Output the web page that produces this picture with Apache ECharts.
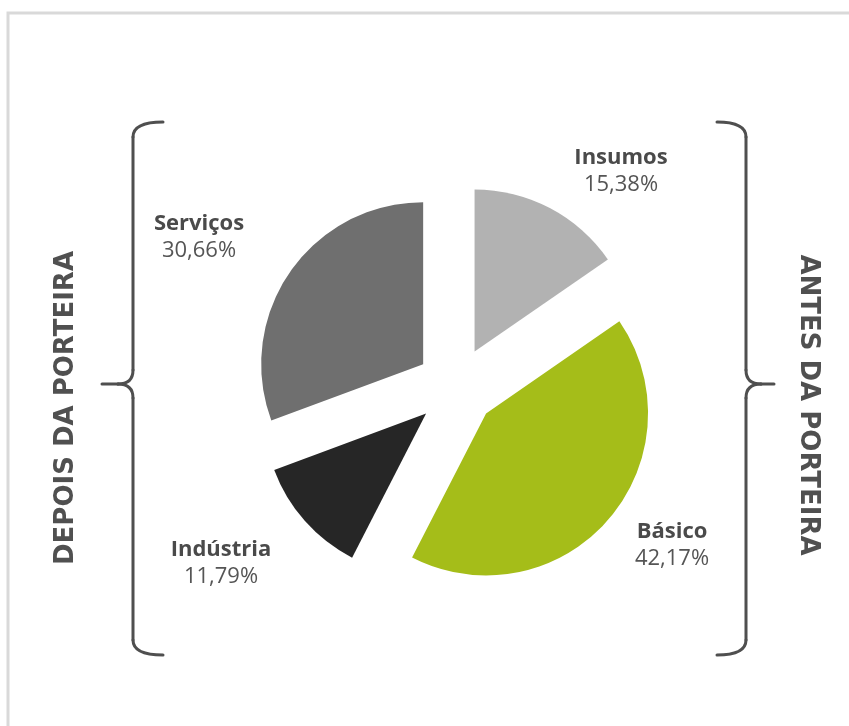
<!DOCTYPE html>
<html>
<head>
<meta charset="utf-8">
<script src="https://cdn.jsdelivr.net/npm/echarts@6/dist/echarts.min.js"></script>
<style>
  html, body { margin: 0; padding: 0; background: #ffffff; }
  #chart { width: 849px; height: 726px; }
</style>
</head>
<body>
<div id="chart"></div>
<script>
// Participação de cada segmento (%)
const categories = ['Insumos', 'Básico', 'Indústria', 'Serviços'];
const shares = [15.38, 42.17, 11.79, 30.66];
const sliceColors = ['#b2b2b2', '#a5bd19', '#262626', '#6f6f6f'];

// Label anchor points for each slice (centre of the two-line label)
const labelAnchors = [[621, 171], [672, 545], [221, 563], [199, 237]];

const leftTitle = 'DEPOIS DA PORTEIRA';
const rightTitle = 'ANTES DA PORTEIRA';

const chart = echarts.init(document.getElementById('chart'), null, { renderer: 'canvas' });

const fmt = v => v.toFixed(2).replace('.', ',') + '%';

const bracketStyle = { stroke: '#4f4f4f', lineWidth: 3, fill: null, lineCap: 'round', lineJoin: 'round' };

// Curly bracket built from straight pieces and quadratic corners.
// xv: x of the vertical stroke, dir: +1 opens to the right, -1 opens to the left
function bracket(xv, dir, top, mid, bottom, arm, tip) {
  const xa = xv + dir * arm;      // end of top/bottom arms
  const xt = xv - dir * tip;      // point of the middle tip
  const xm = xv - dir * 15;
  const q = (x1, y1, cx, cy, x2, y2) => ({
    type: 'bezierCurve', silent: true, style: bracketStyle,
    shape: { x1, y1, cpx1: cx, cpy1: cy, x2, y2 }
  });
  const l = (x1, y1, x2, y2) => ({
    type: 'line', silent: true, style: bracketStyle,
    shape: { x1, y1, x2, y2 }
  });
  return [
    q(xa, top, xv, top, xv, top + 15),
    l(xv, top + 15, xv, mid - 14),
    q(xv, mid - 14, xv, mid, xm, mid),
    l(xm, mid, xt, mid),
    q(xm, mid, xv, mid, xv, mid + 14),
    l(xv, mid + 14, xv, bottom - 15),
    q(xv, bottom - 15, xv, bottom, xa, bottom)
  ];
}

// Two-line slice labels: name in bold, share underneath
const sliceLabels = categories.map((name, i) => ({
  type: 'text',
  x: labelAnchors[i][0],
  y: labelAnchors[i][1],
  silent: true,
  style: {
    text: '{n|' + name + '}\n{v|' + fmt(shares[i]) + '}',
    align: 'center',
    verticalAlign: 'middle',
    rich: {
      n: { fontFamily: '"Open Sans", sans-serif', fontWeight: 'bold', fontSize: 22, fill: '#4a4a4a', lineHeight: 27, align: 'center' },
      v: { fontFamily: '"Open Sans", sans-serif', fontSize: 22, fill: '#555555', lineHeight: 27, align: 'center' }
    }
  }
}));

chart.setOption({
  backgroundColor: '#ffffff',
  animation: false,
  color: sliceColors,
  graphic: [
    {
      type: 'rect',
      shape: { x: 8, y: 13, width: 900, height: 800 },
      style: { stroke: '#d9d9d9', lineWidth: 3, fill: null },
      silent: true
    },
    ...bracket(133, 1, 122, 384, 655, 30, 31),
    ...bracket(746, -1, 122, 384, 655, 29, 28),
    {
      type: 'text',
      x: 66, y: 408,
      rotation: Math.PI / 2,
      style: {
        text: leftTitle,
        fill: '#505050',
        font: 'bold 26px "DejaVu Sans", sans-serif',
        align: 'center',
        verticalAlign: 'middle'
      },
      silent: true
    },
    {
      type: 'text',
      x: 808, y: 405,
      rotation: -Math.PI / 2,
      style: {
        text: rightTitle,
        fill: '#505050',
        font: 'bold 26px "DejaVu Sans", sans-serif',
        align: 'center',
        verticalAlign: 'middle'
      },
      silent: true
    },
    ...sliceLabels
  ],
  series: [{
    type: 'pie',
    center: [456, 387],
    radius: 162,
    startAngle: 90,
    clockwise: true,
    selectedMode: 'multiple',
    selectedOffset: 40,
    emphasis: { disabled: true },
    itemStyle: { borderWidth: 0 },
    label: { show: false },
    labelLine: { show: false },
    data: categories.map((name, i) => ({ name, value: shares[i], selected: true }))
  }]
});
</script>
</body>
</html>
